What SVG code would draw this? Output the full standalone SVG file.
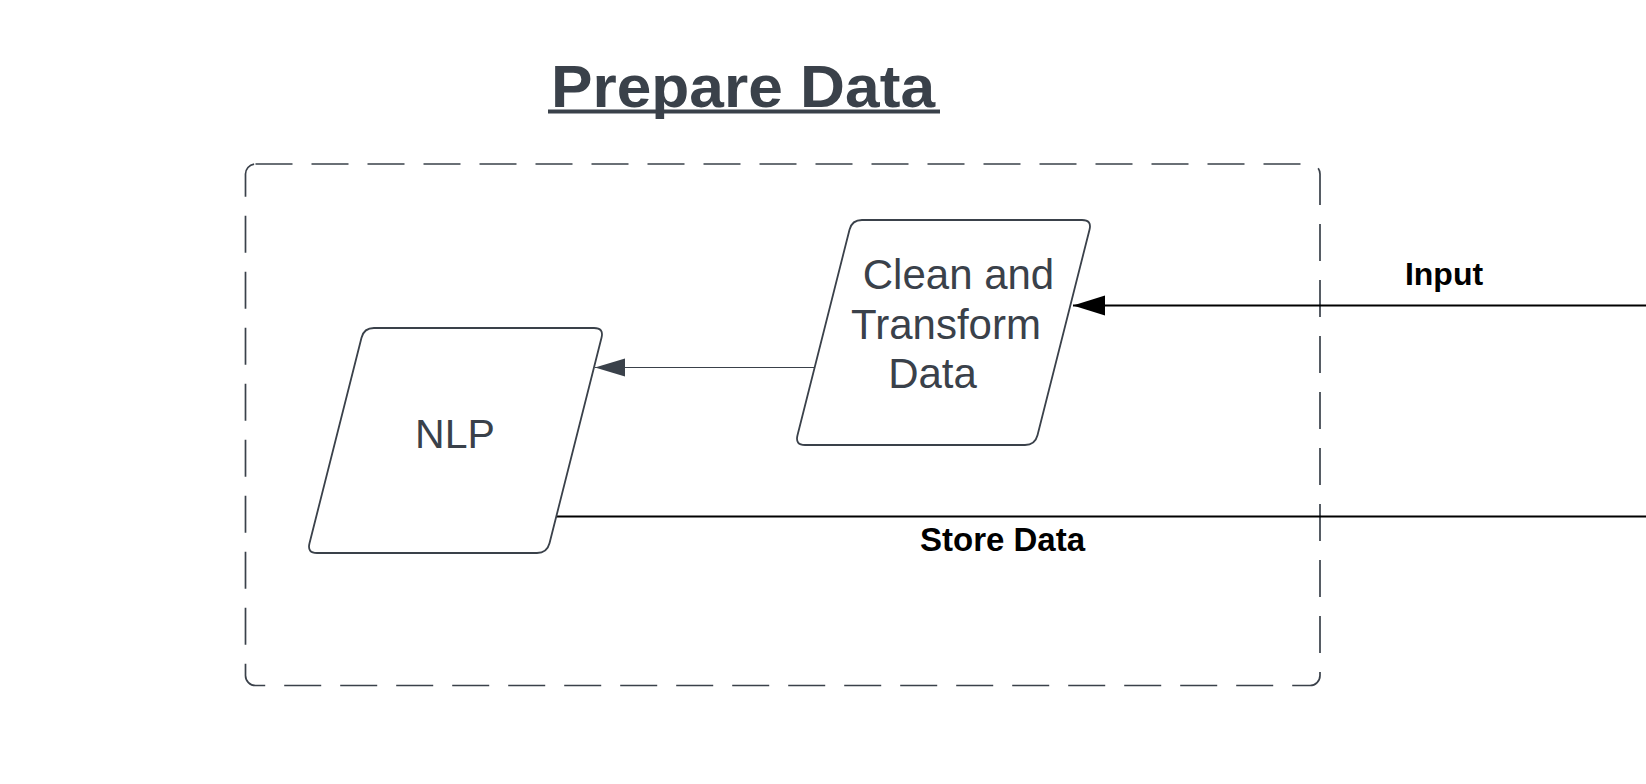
<svg xmlns="http://www.w3.org/2000/svg" width="1646" height="784" viewBox="0 0 1646 784">
  <style>
    .node { fill: #ffffff; stroke: #3a414a; stroke-width: 1.8; }
    .ntext { font-family: "Liberation Sans", Arial, sans-serif; font-size: 42px; fill: #3a414a; text-anchor: middle; }
    .lbl { font-family: "Liberation Sans", Arial, sans-serif; font-size: 32px; font-weight: bold; fill: #000000; text-anchor: middle; }
    .title { font-family: "Liberation Sans", Arial, sans-serif; font-size: 60px; font-weight: bold; fill: #3a414a; }
    .frame { fill: none; stroke: #3a414a; stroke-width: 1.7; stroke-dasharray: 37 19; }
  </style>
  <defs>
    <path id="para" d="M 67,0 L 287,0 Q 297,0 294.5,9.7 L 242.5,215.3 Q 240,225 230,225 L 10,225 Q 0,225 2.5,215.3 L 54.5,9.7 Q 57,0 67,0 Z"/>
    <marker id="arrGray" markerUnits="userSpaceOnUse" markerWidth="32" markerHeight="20" refX="30" refY="9" orient="auto">
      <path d="M0,0 L30,9 L0,18 Z" fill="#3a414a"/>
    </marker>
    <marker id="arrBlack" markerUnits="userSpaceOnUse" markerWidth="34" markerHeight="22" refX="32" refY="10" orient="auto">
      <path d="M0,0 L32,10 L0,20 Z" fill="#000000"/>
    </marker>
  </defs>
  <rect width="1646" height="784" fill="#ffffff"/>

  <g id="title">
    <text class="title" x="551" y="106.5" textLength="384" lengthAdjust="spacingAndGlyphs">Prepare Data</text>
    <rect x="548" y="109.5" width="392" height="4" fill="#3a414a"/>
  </g>

  <g id="prepare-data-frame">
    <rect class="frame" x="245.5" y="164" width="1074.5" height="521.5" rx="10" ry="10"/>
  </g>

  <g id="connectors">
    <line x1="814.5" y1="367.5" x2="595" y2="367.5" stroke="#3a414a" stroke-width="1.2" marker-end="url(#arrGray)"/>
    <line x1="1646" y1="305.5" x2="1073" y2="305.5" stroke="#000000" stroke-width="2" marker-end="url(#arrBlack)"/>
    <line x1="553" y1="516.5" x2="1646" y2="516.5" stroke="#000000" stroke-width="2"/>
    <text class="lbl" x="1444" y="285">Input</text>
    <text class="lbl" x="1002.5" y="550.5" style="font-size:33px">Store Data</text>
  </g>

  <g id="clean-transform">
    <use href="#para" class="node" transform="translate(795,220)"/>
    <text class="ntext" x="958.5" y="289">Clean and</text>
    <text class="ntext" x="946" y="338.5">Transform</text>
    <text class="ntext" x="932.5" y="388">Data</text>
  </g>

  <g id="nlp">
    <use href="#para" class="node" transform="translate(307,328)"/>
    <text class="ntext" x="455" y="448" style="font-size:41px">NLP</text>
  </g>
</svg>
